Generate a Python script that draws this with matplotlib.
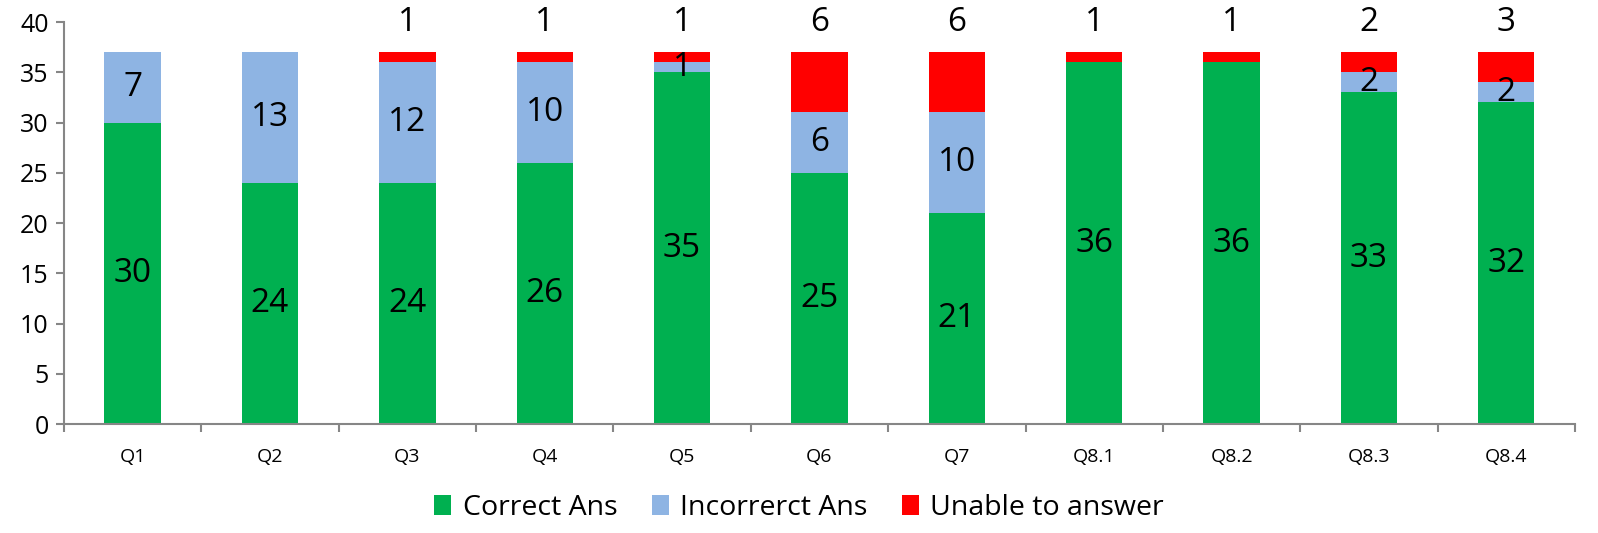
import matplotlib
matplotlib.use("Agg")
import matplotlib.pyplot as plt
import numpy as np

categories = ["Q1", "Q2", "Q3", "Q4", "Q5", "Q6", "Q7", "Q8.1", "Q8.2", "Q8.3", "Q8.4"]
correct = [30, 24, 24, 26, 35, 25, 21, 36, 36, 33, 32]
incorrect = [7, 13, 12, 10, 1, 6, 10, 0, 0, 2, 2]
unable = [0, 0, 1, 1, 1, 6, 6, 1, 1, 2, 3]
series_names = ["Correct Ans", "Incorrerct Ans", "Unable to answer"]
colors = ["#00B050", "#8EB4E3", "#FF0000"]

plt.rcParams['font.family'] = ['Open Sans', 'DejaVu Sans']

fig = plt.figure(figsize=(15.98, 5.33), dpi=100)
ax = fig.add_axes([0.040, 0.2045, 0.9456, 0.7542])

x = np.arange(len(categories))
w = 0.41
c = np.array(correct)
i = np.array(incorrect)
u = np.array(unable)
b1 = ax.bar(x, c, w, color=colors[0], label=series_names[0])
b2 = ax.bar(x, i, w, bottom=c, color=colors[1], label=series_names[1])
b3 = ax.bar(x, u, w, bottom=c + i, color=colors[2], label=series_names[2])

lab_fs = 24
for k in range(len(x)):
    if c[k] > 0:
        ax.text(x[k], c[k] / 2, str(c[k]), ha="center", va="center", fontsize=lab_fs)
    if i[k] > 0:
        ax.text(x[k], c[k] + i[k] / 2, str(i[k]), ha="center", va="center", fontsize=lab_fs)
    if u[k] > 0:
        ax.text(x[k], 40, str(u[k]), ha="center", va="center", fontsize=lab_fs, clip_on=False)

ax.set_xlim(-0.5, len(x) - 0.5)
ax.set_ylim(0, 40)
ax.set_yticks(np.arange(0, 41, 5))
ax.set_xticks(x)
ax.set_xticklabels(categories, fontsize=14)
ax.set_xticks(np.arange(-0.5, len(x), 1), minor=True)
ax.tick_params(axis="x", which="major", length=0, pad=17)
ax.tick_params(axis="x", which="minor", length=6, color="#868686", width=1.5)
ax.tick_params(axis="y", length=6, color="#868686", width=1.5, labelsize=18, pad=5)

for s in ["top", "right"]:
    ax.spines[s].set_visible(False)
for s in ["left", "bottom"]:
    ax.spines[s].set_color("#868686")
    ax.spines[s].set_linewidth(1.5)

fig.legend(handles=[b1, b2, b3], labels=series_names, loc="center", bbox_to_anchor=(0.5, 0.047),
           ncol=3, frameon=False, fontsize=20.5, handlelength=0.6, handleheight=0.7,
           handletextpad=0.4, columnspacing=1.2)

fig.savefig("out.png", dpi=100)
